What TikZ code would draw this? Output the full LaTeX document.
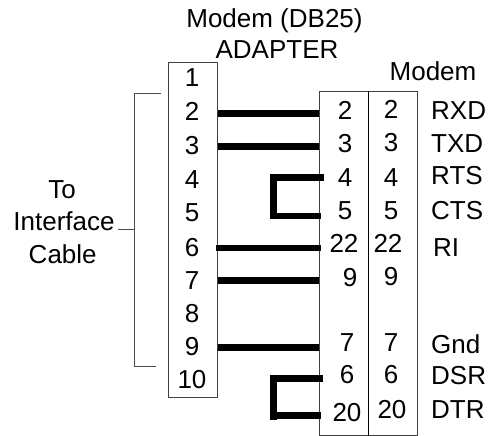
\documentclass[tikz,border=0pt]{standalone}
\usepackage{fontspec}
\setmainfont{Liberation Sans}
\tikzset{
  boxshape/.style={draw=black!75,line width=1pt,fill=none,inner sep=0pt,minimum height=#1},
  lbl/.style={inner sep=0pt,anchor=base,font=\fontsize{26}{26}\selectfont,text=black},
  sig/.style={lbl,anchor=base west},
  wire/.style={line width=#1,black},
  thin line/.style={draw=black!70,line width=1pt}
}
\begin{document}
\begin{tikzpicture}[x=1pt,y=-1pt]
\useasboundingbox (0,0) rectangle (491,436);
\node[boxshape=334.5pt,minimum width=49pt] (adapter) at (193,229.75) {};
\node[boxshape=343.5pt,minimum width=49pt] (modemA) at (343.5,263.25) {};
\node[boxshape=343.5pt,minimum width=49.5pt] (modemB) at (392.75,263.25) {};
\draw[line width=1pt,black] (modemA.north east) -- (modemA.south east);
% titles
\node[lbl] (t1) at (274.5,28) {Modem (DB25)};
\node[lbl] (t2) at (277,59) {ADAPTER};
\node[lbl] (t3) at (433,81) {Modem};
\node[lbl] (c1) at (62,199) {To};
\node[lbl] (c2) at (64,230.7) {Interface};
\node[lbl] (c3) at (62.7,263) {Cable};
% adapter pins
\foreach \n/\y in {1/87,2/120.5,3/155,4/188.7,5/222,6/256,7/289,8/322,9/355,10/388}
  \node[lbl] (a\n) at (192,\y) {\n};
% modem inner column
\foreach \k/\n/\x/\y in {2/2/345/120,3/3/345/153,4/4/345/187,5/5/345/220,22/22/344/252,9/9/350/287,7/7/347/352,6/6/347/383,20/20/347/421}
  \node[lbl] (m\k) at (\x,\y) {\n};
% modem outer column
\foreach \k/\n/\x/\y in {2/2/391/119,3/3/391/152,4/4/391/187,5/5/391/220,22/22/388/253,9/9/391/285,7/7/391/352,6/6/391/383,20/20/392/418}
  \node[lbl] (o\k) at (\x,\y) {\n};
% signal names
\foreach \s/\x/\y in {RXD/431/120,TXD/431/153,RTS/431/185,CTS/431/220,RI/433/256,Gnd/431/353,DSR/431/384,DTR/431/418}
  \node[sig] (s\s) at (\x,\y) {\s};
% wire end points
\coordinate (w2) at (adapter.east |- 0,113.3);
\coordinate (x2) at (modemA.west |- 0,113.3);
\coordinate (w3) at (adapter.east |- 0,146.3);
\coordinate (x3) at (modemA.west |- 0,146.3);
\coordinate (w6) at (216,247.7);
\coordinate (x6) at (321,247.7);
\coordinate (w7) at (adapter.east |- 0,280.3);
\coordinate (x7) at (modemA.west |- 0,280.3);
\coordinate (w9) at (adapter.east |- 0,347.3);
\coordinate (x9) at (modemA.west |- 0,347.3);
\draw[wire=7pt] (w2) -- (x2);
\draw[wire=7pt] (w3) -- (x3);
\draw[wire=6pt] (w6) -- (x6);
\draw[wire=6.5pt] (w7) -- (x7);
\draw[wire=7pt] (w9) -- (x9);
% loops
\coordinate (la) at (324,177.3);
\coordinate (lb) at (273.5,177.3);
\coordinate (lc) at (273.5,216);
\coordinate (ld) at (321,216);
\draw[wire=6.5pt,line join=miter] (la) -- (lb) -- (lc) -- (ld);
\coordinate (pa) at (322.7,378.3);
\coordinate (pb) at (269.5,378.3);
\coordinate (pc) at (321,415.3);
\coordinate (pd) at (270,415.3);
\coordinate (pe) at (273.5,378.3);
\coordinate (pf) at (273.5,419.5);
\draw[wire=6.5pt] (pa) -- (pb);
\draw[wire=6.5pt] (pc) -- (pd);
\draw[wire=6.5pt] (pe) -- (pf);
% bracket
\coordinate (b1) at (160.7,94);
\coordinate (b2) at (134.7,94);
\coordinate (b3) at (134.7,366.7);
\coordinate (b4) at (156,366.7);
\coordinate (b5) at (134.7,230);
\coordinate (b6) at (118,230);
\draw[thin line] (b1) -- (b2) -- (b3) -- (b4);
\draw[thin line] (b5) -- (b6);
\end{tikzpicture}
\end{document}
